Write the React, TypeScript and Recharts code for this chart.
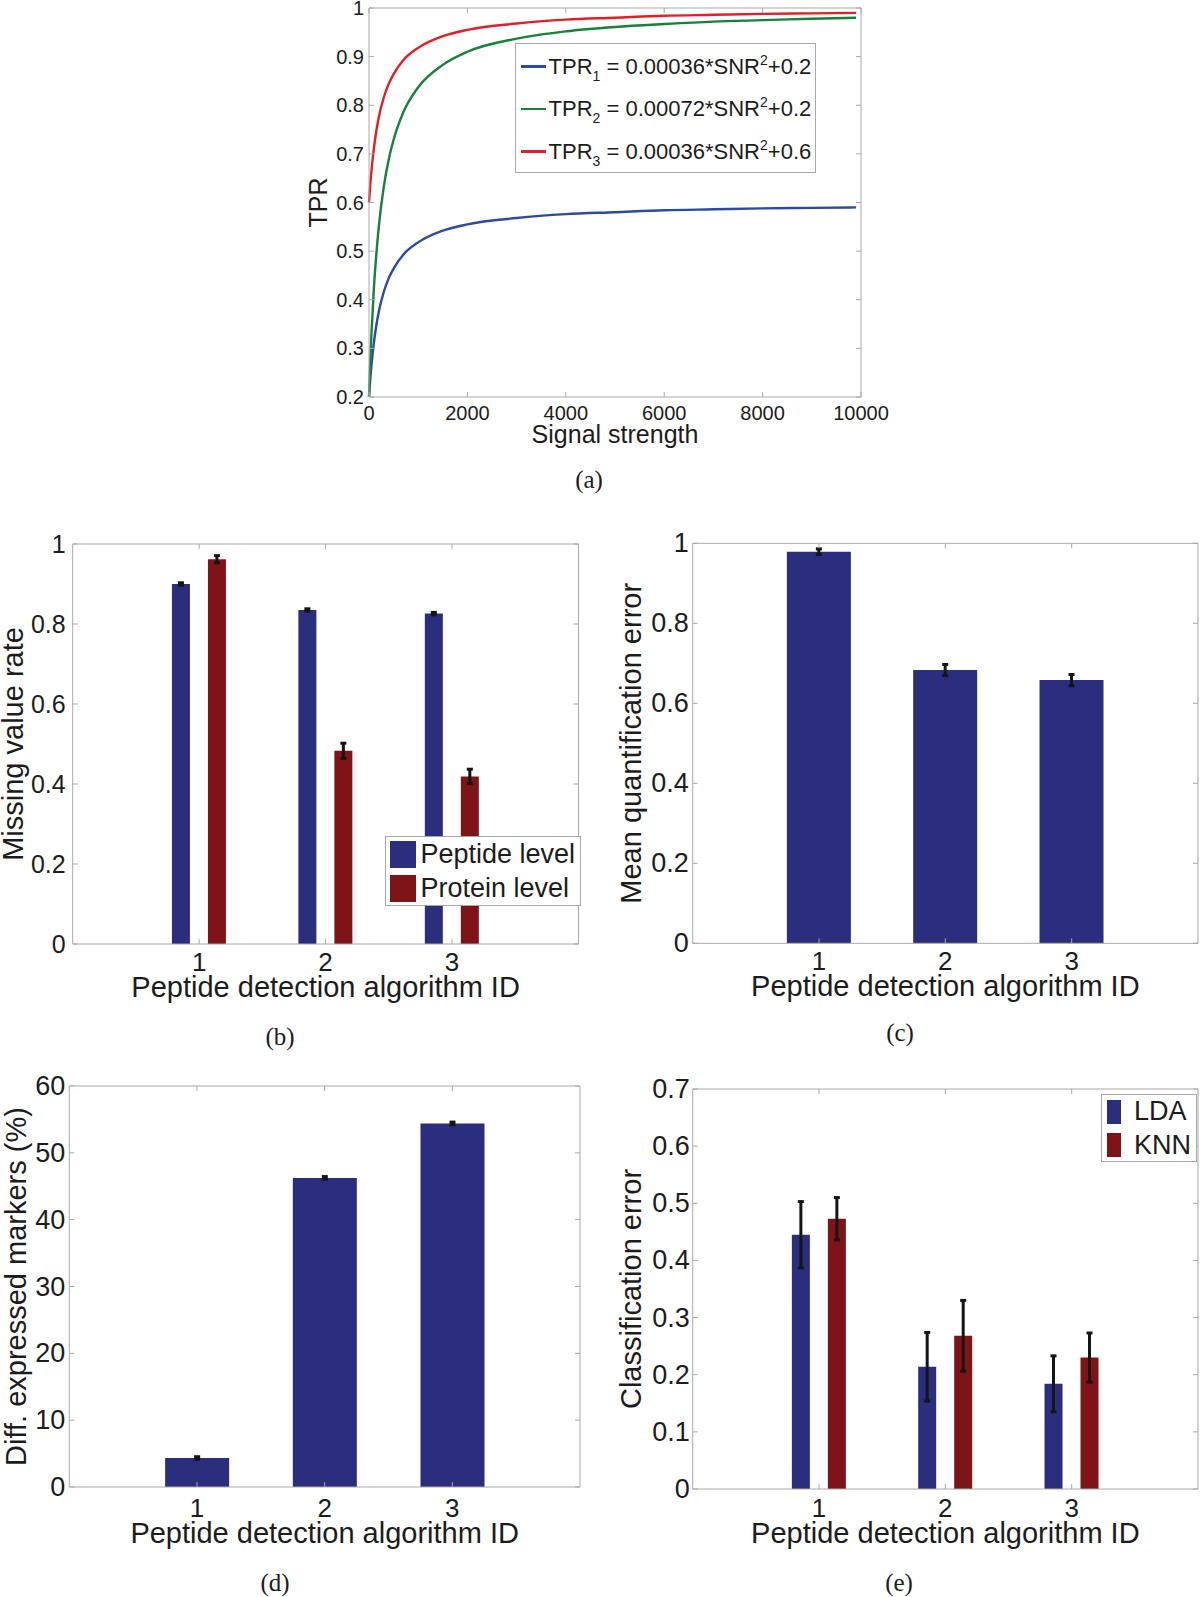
import {
  Bar,
  BarChart,
  ErrorBar,
  Label,
  Legend,
  Line,
  LineChart,
  ReferenceLine,
  XAxis,
  YAxis,
} from "recharts";

const FONT = '"Liberation Sans", Arial, Helvetica, sans-serif';
const AXIS = "#a9a9a9";
const INK = "#1c1c1c";
const BLUE_BAR = "#2b2d7d";
const RED_BAR = "#7e1417";

// (a) TPR vs signal strength
const signalStrength = [0, 25, 50, 100, 150, 200, 300, 400, 500, 700, 1000, 1500, 2000, 3000, 4000, 5000, 6000, 7000, 8000, 9000, 9900];
const tpr1 = [0.2, 0.236, 0.265, 0.312, 0.348, 0.376, 0.416, 0.444, 0.464, 0.493, 0.518, 0.542, 0.555, 0.568, 0.576, 0.58, 0.584, 0.586, 0.588, 0.589, 0.59];
const tpr2 = [0.2, 0.271, 0.33, 0.425, 0.495, 0.551, 0.632, 0.688, 0.729, 0.786, 0.837, 0.883, 0.91, 0.937, 0.952, 0.961, 0.967, 0.972, 0.975, 0.978, 0.98];
const tpr3 = [0.6, 0.636, 0.665, 0.712, 0.748, 0.776, 0.816, 0.844, 0.864, 0.893, 0.918, 0.942, 0.955, 0.968, 0.976, 0.98, 0.984, 0.986, 0.988, 0.989, 0.99];
const snrTicks = [0, 2000, 4000, 6000, 8000, 10000];
const tprTicks = [0.2, 0.3, 0.4, 0.5, 0.6, 0.7, 0.8, 0.9, 1];
const tprColors = ["#2b4ba3", "#17803a", "#e41e26"];
const tprCoef = ["0.00036", "0.00072", "0.00036"];
const tprOffset = ["0.2", "0.2", "0.6"];

// (b)-(e) per algorithm
const algorithmIds = [1, 2, 3];
const peptideMissing = [0.9, 0.835, 0.826];
const peptideMissingErr = [0.003, 0.003, 0.003];
const proteinMissing = [0.962, 0.483, 0.419];
const proteinMissingErr = [0.009, 0.019, 0.018];
const quantError = [0.979, 0.683, 0.658];
const quantErrorErr = [0.007, 0.014, 0.014];
const diffMarkers = [4.33, 46.25, 54.4];
const diffMarkersErr = [0.2, 0.2, 0.2];
const ldaError = [0.445, 0.214, 0.184];
const ldaErrorErr = [0.058, 0.06, 0.049];
const knnError = [0.473, 0.268, 0.23];
const knnErrorErr = [0.037, 0.062, 0.043];

const unitTicks = [0, 0.2, 0.4, 0.6, 0.8, 1];
const percentTicks = [0, 10, 20, 30, 40, 50, 60];
const classTicks = [0, 0.1, 0.2, 0.3, 0.4, 0.5, 0.6, 0.7];

const tprRows = signalStrength.map((snr, i) => ({ snr, t1: tpr1[i], t2: tpr2[i], t3: tpr3[i] }));
const missingRows = algorithmIds.map((id, i) => ({
  id,
  peptide: peptideMissing[i],
  peptideErr: peptideMissingErr[i],
  protein: proteinMissing[i],
  proteinErr: proteinMissingErr[i],
}));
const quantRows = algorithmIds.map((id, i) => ({ id, v: quantError[i], err: quantErrorErr[i] }));
const markerRows = algorithmIds.map((id, i) => ({ id, v: diffMarkers[i], err: diffMarkersErr[i] }));
const classRows = algorithmIds.map((id, i) => ({
  id,
  lda: ldaError[i],
  ldaErr: ldaErrorErr[i],
  knn: knnError[i],
  knnErr: knnErrorErr[i],
}));

type Geo = { x: number; y: number; w: number; h: number; L: number; T: number; R: number; B: number };
const Y_W = 60;
const X_H = 40;

const GA: Geo = { x: 290, y: 0, w: 610, h: 500, L: 369, T: 8, R: 861, B: 397 };
const GB: Geo = { x: 0, y: 520, w: 600, h: 540, L: 72.7, T: 544, R: 578.5, B: 944 };
const GC: Geo = { x: 600, y: 520, w: 600, h: 540, L: 692.7, T: 543.3, R: 1198, B: 943.3 };
const GD: Geo = { x: 0, y: 1060, w: 600, h: 537, L: 69.3, T: 1086, R: 580, B: 1487 };
const GE: Geo = { x: 600, y: 1060, w: 600, h: 537, L: 692.7, T: 1089, R: 1198, B: 1489 };

const margins = (g: Geo) => ({
  left: g.L - g.x - Y_W,
  top: g.T - g.y,
  right: g.x + g.w - g.R,
  bottom: g.y + g.h - g.B - X_H,
});

const fmt = (v: number) => String(Math.round(v * 100) / 100);

const xTick = (g: Geo, dy: number, size: number) => (props: any) => {
  const { x, payload } = props;
  const t = g.T - g.y;
  const b = g.B - g.y;
  return (
    <g>
      <line x1={x} x2={x} y1={b} y2={b - 5} stroke={AXIS} />
      <line x1={x} x2={x} y1={t} y2={t + 5} stroke={AXIS} />
      <text x={x} y={b + dy} textAnchor="middle" dominantBaseline="central" fontSize={size} fill={INK} fontFamily={FONT}>
        {fmt(payload.value)}
      </text>
    </g>
  );
};

const yTick = (g: Geo, gap: number, size: number) => (props: any) => {
  const { y, payload } = props;
  const l = g.L - g.x;
  const r = g.R - g.x;
  return (
    <g>
      <line x1={l} x2={l + 5} y1={y} y2={y} stroke={AXIS} />
      <line x1={r} x2={r - 5} y1={y} y2={y} stroke={AXIS} />
      <text x={l - gap} y={y} textAnchor="end" dominantBaseline="central" fontSize={size} fill={INK} fontFamily={FONT}>
        {fmt(payload.value)}
      </text>
    </g>
  );
};

const xTitle = (g: Geo, text: string, dy: number, size: number) => () => (
  <text x={(g.L + g.R) / 2 - g.x} y={g.B - g.y + dy} textAnchor="middle" fontSize={size} fill={INK} fontFamily={FONT}>
    {text}
  </text>
);

const yTitle = (g: Geo, text: string, cx: number, size: number) => () => {
  const x = cx - g.x;
  const y = (g.T + g.B) / 2 - g.y;
  return (
    <text
      x={x}
      y={y}
      transform={`rotate(-90, ${x}, ${y})`}
      textAnchor="middle"
      dominantBaseline="central"
      fontSize={size}
      fill={INK}
      fontFamily={FONT}
    >
      {text}
    </text>
  );
};

const boxStyle = {
  background: "#fff",
  border: `1px solid ${AXIS}`,
  boxSizing: "border-box" as const,
  fontFamily: FONT,
  color: INK,
};

const TprLegend = () => (
  <div style={{ ...boxStyle, width: 301, height: 130, paddingTop: 1 }}>
    {tprColors.map((c, i) => (
      <div key={i} style={{ height: 42.5, display: "flex", alignItems: "center", fontSize: 22, whiteSpace: "nowrap" }}>
        <div style={{ width: 25, height: 2.6, background: c, marginLeft: 5, marginRight: 3 }} />
        <span>
          TPR<sub style={{ fontSize: 14, verticalAlign: -7, lineHeight: 0 }}>{i + 1}</sub> = {tprCoef[i]}*SNR
          <sup style={{ fontSize: 14, verticalAlign: 9, lineHeight: 0 }}>2</sup>+{tprOffset[i]}
        </span>
      </div>
    ))}
  </div>
);

const PatchLegend = ({ names, colors, w, h, pw, ph, pl, tl, top }: any) => (
  <div style={{ ...boxStyle, width: w, height: h, paddingTop: top, fontSize: 27 }}>
    {names.map((n: string, i: number) => (
      <div key={n} style={{ height: 33.5, display: "flex", alignItems: "center", whiteSpace: "nowrap" }}>
        <div style={{ width: pw, height: ph, background: colors[i], marginLeft: pl, marginRight: tl }} />
        <span>{n}</span>
      </div>
    ))}
  </div>
);

const Panel = ({ g, children }: { g: Geo; children: any }) => (
  <div style={{ position: "absolute", left: g.x, top: g.y, width: g.w, height: g.h }}>{children}</div>
);

const Letter = ({ x, y, t }: { x: number; y: number; t: string }) => (
  <div
    style={{
      position: "absolute",
      left: x,
      top: y,
      transform: "translate(-50%, -50%)",
      fontFamily: '"Liberation Serif", "DejaVu Serif", serif',
      fontSize: 25,
      color: INK,
    }}
  >
    {t}
  </div>
);

const errProps = { width: 3, strokeWidth: 3, stroke: "#151515" };

export default function App() {
  return (
    <div style={{ position: "relative", width: 1200, height: 1597, background: "#fff" }}>
      <style>{"body{margin:0}"}</style>

      <Panel g={GA}>
        <LineChart width={GA.w} height={GA.h} data={tprRows} margin={margins(GA)}>
          <XAxis
            dataKey="snr"
            type="number"
            domain={[0, 10000]}
            ticks={snrTicks}
            interval={0}
            height={X_H}
            tickLine={false}
            axisLine={{ stroke: AXIS }}
            tick={xTick(GA, 16, 20)}
          >
            <Label content={xTitle(GA, "Signal strength", 46, 25)} />
          </XAxis>
          <YAxis
            type="number"
            domain={[0.2, 1]}
            ticks={tprTicks}
            interval={0}
            width={Y_W}
            tickLine={false}
            axisLine={{ stroke: AXIS }}
            tick={yTick(GA, 5, 20)}
          >
            <Label content={yTitle(GA, "TPR", 318, 25)} />
          </YAxis>
          <ReferenceLine y={1} stroke={AXIS} />
          <ReferenceLine x={10000} stroke={AXIS} />
          <Line type="monotone" dataKey="t1" stroke={tprColors[0]} strokeWidth={2.4} dot={false} isAnimationActive={false} />
          <Line type="monotone" dataKey="t2" stroke={tprColors[1]} strokeWidth={2.4} dot={false} isAnimationActive={false} />
          <Line type="monotone" dataKey="t3" stroke={tprColors[2]} strokeWidth={2.4} dot={false} isAnimationActive={false} />
          <Legend
            layout="vertical"
            align="center"
            verticalAlign="middle"
            wrapperStyle={{ left: 514.6 - GA.x, top: 43.3 - GA.y, width: 301, height: 130 }}
            content={() => <TprLegend />}
          />
        </LineChart>
      </Panel>
      <Letter x={589} y={480} t="(a)" />

      <Panel g={GB}>
        <BarChart width={GB.w} height={GB.h} data={missingRows} margin={margins(GB)} barSize={18} barGap={18}>
          <XAxis
            dataKey="id"
            type="number"
            domain={[0, 4]}
            ticks={algorithmIds}
            interval={0}
            height={X_H}
            tickLine={false}
            axisLine={{ stroke: AXIS }}
            tick={xTick(GB, 18, 26)}
          >
            <Label content={xTitle(GB, "Peptide detection algorithm ID", 53, 29)} />
          </XAxis>
          <YAxis
            type="number"
            domain={[0, 1]}
            ticks={unitTicks}
            interval={0}
            width={Y_W}
            tickLine={false}
            axisLine={{ stroke: AXIS }}
            tick={yTick(GB, 7, 25)}
          >
            <Label content={yTitle(GB, "Missing value rate", 13, 29)} />
          </YAxis>
          <ReferenceLine y={1} stroke={AXIS} />
          <ReferenceLine x={4} stroke={AXIS} />
          <Bar dataKey="peptide" name="Peptide level" fill={BLUE_BAR} isAnimationActive={false}>
            <ErrorBar dataKey="peptideErr" {...errProps} />
          </Bar>
          <Bar dataKey="protein" name="Protein level" fill={RED_BAR} isAnimationActive={false}>
            <ErrorBar dataKey="proteinErr" {...errProps} />
          </Bar>
          <Legend
            layout="vertical"
            align="center"
            verticalAlign="middle"
            wrapperStyle={{ left: 385.4 - GB.x, top: 836 - GB.y, width: 196, height: 70 }}
            content={() => (
              <PatchLegend
                names={["Peptide level", "Protein level"]}
                colors={[BLUE_BAR, RED_BAR]}
                w={196}
                h={70}
                pw={26}
                ph={27}
                pl={4}
                tl={4}
                top={1}
              />
            )}
          />
        </BarChart>
      </Panel>
      <Letter x={280} y={1037} t="(b)" />

      <Panel g={GC}>
        <BarChart width={GC.w} height={GC.h} data={quantRows} margin={margins(GC)} barSize={64}>
          <XAxis
            dataKey="id"
            type="number"
            domain={[0, 4]}
            ticks={algorithmIds}
            interval={0}
            height={X_H}
            tickLine={false}
            axisLine={{ stroke: AXIS }}
            tick={xTick(GC, 18, 26)}
          >
            <Label content={xTitle(GC, "Peptide detection algorithm ID", 53, 29)} />
          </XAxis>
          <YAxis
            type="number"
            domain={[0, 1]}
            ticks={unitTicks}
            interval={0}
            width={Y_W}
            tickLine={false}
            axisLine={{ stroke: AXIS }}
            tick={yTick(GC, 4, 27)}
          >
            <Label content={yTitle(GC, "Mean quantification error", 631, 29)} />
          </YAxis>
          <ReferenceLine y={1} stroke={AXIS} />
          <ReferenceLine x={4} stroke={AXIS} />
          <Bar dataKey="v" fill={BLUE_BAR} isAnimationActive={false}>
            <ErrorBar dataKey="err" {...errProps} />
          </Bar>
        </BarChart>
      </Panel>
      <Letter x={900} y={1033} t="(c)" />

      <Panel g={GD}>
        <BarChart width={GD.w} height={GD.h} data={markerRows} margin={margins(GD)} barSize={64}>
          <XAxis
            dataKey="id"
            type="number"
            domain={[0, 4]}
            ticks={algorithmIds}
            interval={0}
            height={X_H}
            tickLine={false}
            axisLine={{ stroke: AXIS }}
            tick={xTick(GD, 21, 26)}
          >
            <Label content={xTitle(GD, "Peptide detection algorithm ID", 56, 29)} />
          </XAxis>
          <YAxis
            type="number"
            domain={[0, 60]}
            ticks={percentTicks}
            interval={0}
            width={Y_W}
            tickLine={false}
            axisLine={{ stroke: AXIS }}
            tick={yTick(GD, 4, 27)}
          >
            <Label content={yTitle(GD, "Diff. expressed markers (%)", 16, 29)} />
          </YAxis>
          <ReferenceLine y={60} stroke={AXIS} />
          <ReferenceLine x={4} stroke={AXIS} />
          <Bar dataKey="v" fill={BLUE_BAR} isAnimationActive={false}>
            <ErrorBar dataKey="err" {...errProps} />
          </Bar>
        </BarChart>
      </Panel>
      <Letter x={275} y={1583} t="(d)" />

      <Panel g={GE}>
        <BarChart width={GE.w} height={GE.h} data={classRows} margin={margins(GE)} barSize={18} barGap={18}>
          <XAxis
            dataKey="id"
            type="number"
            domain={[0, 4]}
            ticks={algorithmIds}
            interval={0}
            height={X_H}
            tickLine={false}
            axisLine={{ stroke: AXIS }}
            tick={xTick(GE, 19, 26)}
          >
            <Label content={xTitle(GE, "Peptide detection algorithm ID", 54, 29)} />
          </XAxis>
          <YAxis
            type="number"
            domain={[0, 0.7]}
            ticks={classTicks}
            interval={0}
            width={Y_W}
            tickLine={false}
            axisLine={{ stroke: AXIS }}
            tick={yTick(GE, 3, 27)}
          >
            <Label content={yTitle(GE, "Classification error", 631, 29)} />
          </YAxis>
          <ReferenceLine y={0.7} stroke={AXIS} />
          <ReferenceLine x={4} stroke={AXIS} />
          <Bar dataKey="lda" name="LDA" fill={BLUE_BAR} isAnimationActive={false}>
            <ErrorBar dataKey="ldaErr" {...errProps} />
          </Bar>
          <Bar dataKey="knn" name="KNN" fill={RED_BAR} isAnimationActive={false}>
            <ErrorBar dataKey="knnErr" {...errProps} />
          </Bar>
          <Legend
            layout="vertical"
            align="center"
            verticalAlign="middle"
            wrapperStyle={{ left: 1100.6 - GE.x, top: 1094 - GE.y, width: 96, height: 68 }}
            content={() => (
              <PatchLegend
                names={["LDA", "KNN"]}
                colors={[BLUE_BAR, RED_BAR]}
                w={96}
                h={68}
                pw={14.5}
                ph={24}
                pl={5}
                tl={13}
                top={0}
              />
            )}
          />
        </BarChart>
      </Panel>
      <Letter x={899} y={1583} t="(e)" />
    </div>
  );
}
